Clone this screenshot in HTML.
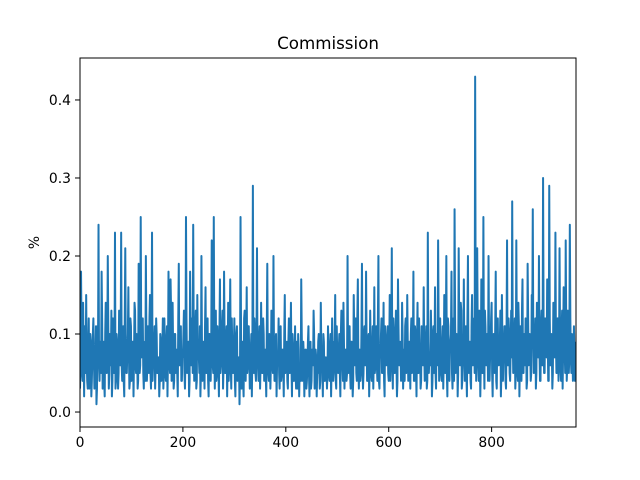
<!DOCTYPE html>
<html><head><meta charset="utf-8"><style>
body{margin:0;background:#fff;}
svg{display:block;font-family:"DejaVu Sans","Liberation Sans",sans-serif;}
</style></head><body>
<svg id="c" width="640" height="480"></svg>
<script>
const evenValues = [
3,18,5,14,2,9,15,4,8,3,10,2,7,12,3,6,1,11,24,4,
8,18,3,9,2,14,5,20,3,10,6,2,12,5,23,4,9,3,13,6,
23,4,11,2,21,5,8,16,3,12,4,9,2,14,6,10,3,19,5,25,
7,12,3,9,20,4,11,5,15,3,23,6,9,3,12,5,7,2,10,4,
8,3,12,5,9,2,18,6,17,4,14,3,10,5,8,2,19,6,11,4,
7,13,3,25,5,9,2,18,6,12,24,4,10,3,15,7,5,2,20,4,
9,3,16,5,12,2,10,4,22,6,25,3,13,5,8,2,17,6,11,3,
18,5,9,2,14,6,17,3,8,5,12,2,10,4,7,1,25,3,9,2,
13,4,16,6,11,3,8,2,29,5,10,4,21,6,9,3,14,5,12,4,
8,2,19,5,10,3,13,6,20,4,9,2,7,12,3,11,5,8,2,15,
6,9,3,12,5,14,2,8,4,11,3,7,10,2,6,17,4,9,2,8,
3,6,11,2,9,4,7,13,3,8,2,5,10,3,14,6,2,9,4,7,
3,11,5,8,2,12,4,9,15,3,7,5,10,2,13,6,14,3,8,4,
20,5,11,3,9,2,15,6,12,4,17,3,8,5,19,3,10,6,18,4,
9,2,13,5,8,3,16,6,11,4,20,3,7,12,5,14,2,9,6,11,
4,15,7,21,3,10,5,13,2,17,6,9,4,14,3,8,11,5,15,4,
9,3,12,6,18,4,10,2,14,5,8,3,11,6,16,4,9,3,23,5,
7,13,2,10,5,16,3,9,22,4,12,6,8,3,15,5,20,2,11,4,
9,18,3,12,26,5,10,2,21,6,14,3,8,17,4,11,2,20,5,9,
3,15,6,12,43,4,21,7,13,2,17,5,25,3,11,6,9,20,4,8,
14,2,10,5,18,3,12,6,9,2,15,4,8,11,3,22,6,10,4,13,
27,5,9,3,22,6,14,2,11,4,17,5,8,12,3,19,6,10,4,15,
26,5,9,3,14,7,20,4,11,6,30,5,12,8,17,4,29,6,10,3,
14,7,23,5,12,4,21,6,10,3,16,8,22,4,13,5,24,7,10,4,
11,4,9];
const oddValues = [
6,10,4,8,11,5,7,3,12,6,9,4,10,7,5,11,3,8,6,9,
5,12,7,4,10,6,8,11,5,7,13,4,9,6,3,10,7,5,11,8,
6,9,4,12,7,5,10,8,4,11,6,9,7,13,5,8,4,10,6,9,
11,5,8,4,10,7,6,12,5,9,4,8,11,6,10,5,7,4,9,6,
12,5,8,4,11,7,9,5,13,6,8,4,10,7,5,12,6,9,4,8,
10,5,7,12,6,9,4,11,8,5,10,6,13,4,8,7,11,5,9,6,
7,11,5,9,4,10,6,8,12,5,9,7,4,11,6,10,5,8,13,6,
9,5,11,7,4,10,6,12,5,8,4,9,11,6,7,5,10,8,4,12,
6,9,5,11,7,4,10,8,6,12,5,9,7,4,11,6,8,5,10,7,
5,10,7,4,9,6,11,5,8,4,10,6,7,5,9,4,8,6,10,5,
7,4,9,5,8,6,10,4,7,5,9,3,8,6,4,10,5,7,6,8,
4,9,5,7,3,8,6,10,4,7,5,9,6,4,8,5,10,4,7,6,
5,8,4,10,6,7,5,9,4,11,6,8,5,10,7,4,9,6,8,5,
7,11,5,9,6,4,10,7,5,12,6,8,4,10,7,5,11,6,9,4,
10,6,8,4,11,7,5,9,6,12,4,8,10,5,7,4,11,6,9,5,
8,4,10,6,12,5,9,7,4,11,6,8,5,10,7,4,12,6,9,5,
7,10,5,8,4,11,6,9,5,12,7,4,10,6,8,5,11,4,9,7,
6,9,4,11,7,5,10,6,12,5,8,4,11,7,6,9,5,12,6,8,
10,5,8,4,12,7,9,5,11,6,13,4,8,7,10,5,12,6,9,4,
11,6,8,5,12,7,10,4,9,6,11,5,8,13,6,10,4,9,7,12,
5,9,7,11,4,10,6,8,13,5,9,7,11,4,10,6,12,5,8,7,
10,6,12,5,9,4,11,7,8,13,5,10,6,9,4,12,7,8,5,11,
9,6,12,5,10,7,8,4,13,6,11,5,9,7,10,4,12,6,8,5,
11,7,9,5,12,6,10,4,13,8,9,5,11,6,10,7,12,5,8,6,
7,5];
const valueScale = 0.01;
const xTicks = [0,200,400,600,800];
const yTicks = [0.0,0.1,0.2,0.3,0.4];
const yTickLabels = ["0.0","0.1","0.2","0.3","0.4"];

const L=80,R=576,T=58,B=427;
const xMin=0,xMax=964,yMin=-0.0192,yMax=0.4538;
const xs=v=>L+(v-xMin)/(xMax-xMin)*(R-L);
const ys=v=>B-(v-yMin)/(yMax-yMin)*(B-T);
const svg=document.getElementById('c');
const NS='http://www.w3.org/2000/svg';
function mk(tag,attrs,parent){const e=document.createElementNS(NS,tag);for(const k in attrs)e.setAttribute(k,attrs[k]);(parent||svg).appendChild(e);return e;}

const series=[];
for(let i=0;i<evenValues.length;i++){
  series.push([2*i,evenValues[i]]);
  if(i<oddValues.length) series.push([2*i+1,oddValues[i]]);
}
const pts=series.map(p=>xs(p[0]).toFixed(2)+','+ys(p[1]*valueScale).toFixed(2)).join(' ');
const clip=mk('clipPath',{id:'cp'});mk('rect',{x:L,y:T,width:R-L,height:B-T},clip);
const line=mk('polyline',{points:pts,fill:'none',stroke:'#1f77b4','stroke-width':2,'stroke-linejoin':'round','clip-path':'url(#cp)'});



const frame=mk('rect',{x:L,y:T,width:R-L,height:B-T,fill:'none',stroke:'#000','stroke-width':1});



xTicks.forEach(t=>{
  const x=xs(t);
  mk('line',{x1:x,x2:x,y1:B,y2:B+5,stroke:'#000','stroke-width':1});
  const tx=mk('text',{x:x,y:B+20,'text-anchor':'middle','font-size':13.9});
  tx.textContent=t;
  
  
});
yTicks.forEach((t,i)=>{
  const y=ys(t);
  mk('line',{x1:L-5,x2:L,y1:y,y2:y,stroke:'#000','stroke-width':1});
  const tx=mk('text',{x:L-9,y:y+5,'text-anchor':'end','font-size':13.9});
  tx.textContent=yTickLabels[i];
  
  
});
const title=mk('text',{x:(L+R)/2,y:49,'text-anchor':'middle','font-size':16.7});
title.textContent='Commission';


const yl=mk('text',{x:0,y:0,'text-anchor':'middle','font-size':13.9,transform:'translate(39,'+((T+B)/2)+') rotate(-90)'});
yl.textContent='%';


</script>
</body></html>
